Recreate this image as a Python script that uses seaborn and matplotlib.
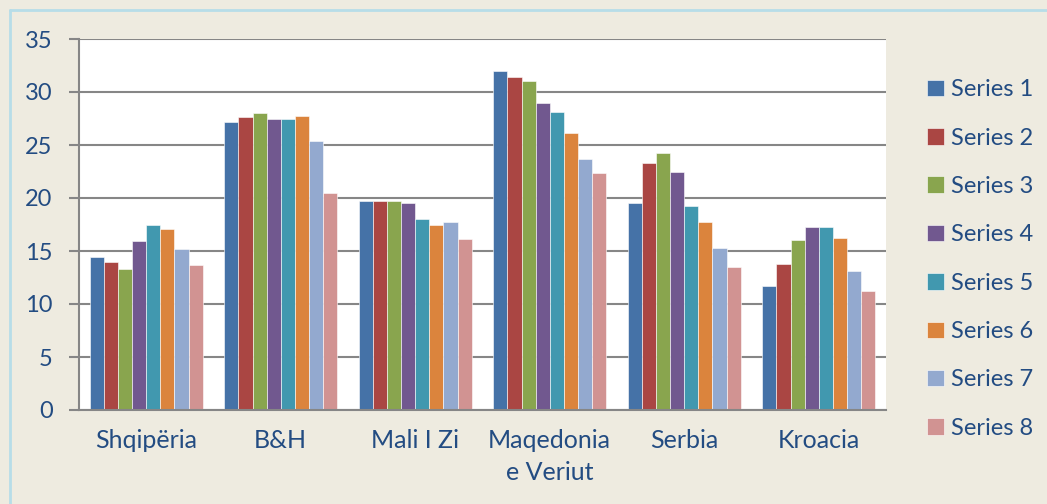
# Grouped bar chart - eight series across six countries
import numpy as np
import pandas as pd
import seaborn as sns
import matplotlib.pyplot as plt
from matplotlib.lines import Line2D

# DATA
countries = ['Shqipëria', 'B&H', 'Mali I Zi', 'Maqedonia\ne Veriut', 'Serbia', 'Kroacia']
series_names = ['Series 1', 'Series 2', 'Series 3', 'Series 4',
                'Series 5', 'Series 6', 'Series 7', 'Series 8']
series_1 = [14.4, 27.2, 19.7, 32.0, 19.5, 11.7]
series_2 = [14.0, 27.6, 19.7, 31.4, 23.3, 13.75]
series_3 = [13.3, 28.0, 19.7, 31.0, 24.2, 16.0]
series_4 = [15.9, 27.5, 19.5, 29.0, 22.5, 17.3]
series_5 = [17.5, 27.5, 18.0, 28.1, 19.2, 17.3]
series_6 = [17.1, 27.7, 17.5, 26.1, 17.7, 16.2]
series_7 = [15.2, 25.4, 17.7, 23.7, 15.25, 13.1]
series_8 = [13.7, 20.5, 16.1, 22.4, 13.5, 11.2]
yticks = [0, 5, 10, 15, 20, 25, 30, 35]

colors = ['#4572A7', '#AA4643', '#89A54E', '#71588F',
          '#4198AF', '#DB843D', '#93A9CF', '#D19392']

all_series = [series_1, series_2, series_3, series_4,
              series_5, series_6, series_7, series_8]
rows = []
for name, vals in zip(series_names, all_series):
    for c, v in zip(countries, vals):
        rows.append({'Country': c, 'Series': name, 'Value': v})
df = pd.DataFrame(rows)

# STYLE
sns.set_theme(style='white')
plt.rcParams['font.family'] = ['Lato', 'DejaVu Sans']
bg = '#EEEBE0'
text_col = '#234C82'
grid_col = '#868686'

fig = plt.figure(figsize=(10.47, 5.04), dpi=100, facecolor=bg)
ax = fig.add_axes([79 / 1047, 1 - 410 / 504, (886 - 79) / 1047, (410 - 39) / 504])
ax.set_facecolor('white')

sns.barplot(data=df, x='Country', y='Value', hue='Series', palette=colors,
            width=0.84, gap=0, ax=ax, edgecolor='#FFFFFF', linewidth=0.4,
            saturation=1)

ax.set_ylim(0, 35)
ax.set_xlim(-0.5, len(countries) - 0.5)
ax.set_yticks(yticks)
ax.yaxis.grid(True, color=grid_col, linewidth=1.5)
ax.set_axisbelow(True)
ax.set_xlabel('')
ax.set_ylabel('')

for s in ['top', 'right']:
    ax.spines[s].set_visible(False)
for s in ['left', 'bottom']:
    ax.spines[s].set_color(grid_col)
    ax.spines[s].set_linewidth(1.5)

# category labels at centres, tick marks at boundaries
ax.set_xticks(np.arange(len(countries)))
ax.set_xticklabels(countries, color=text_col, fontsize=18, linespacing=1.45)
ax.set_xticks(np.arange(len(countries) + 1) - 0.5, minor=True)
ax.tick_params(axis='x', which='major', length=0, pad=14)
ax.tick_params(axis='x', which='minor', length=7, width=1.5, color=grid_col, direction='out')
ax.tick_params(axis='y', length=7, width=1.5, color=grid_col, direction='out',
               labelsize=17, labelcolor=text_col, pad=12, left=True)

# legend
handles, labels = ax.get_legend_handles_labels()
ax.get_legend().remove()
leg = fig.legend(handles, labels, loc='center left',
                 bbox_to_anchor=(927 / 1047, 1 - 259 / 504),
                 bbox_transform=fig.transFigure,
                 frameon=False, fontsize=17, handlelength=0.7, handleheight=0.7,
                 handletextpad=0.3, labelspacing=1.16, borderpad=0,
                 borderaxespad=0)
for t in leg.get_texts():
    t.set_color(text_col)

# outer border, only top and left edges visible
border_col = '#B7DDE8'
fig.add_artist(Line2D([10 / 1047, 1], [1 - 10 / 504, 1 - 10 / 504],
                      transform=fig.transFigure, color=border_col, linewidth=2))
fig.add_artist(Line2D([10 / 1047, 10 / 1047], [0, 1 - 10 / 504],
                      transform=fig.transFigure, color=border_col, linewidth=2))

fig.savefig('out.png', dpi=100, facecolor=bg)
